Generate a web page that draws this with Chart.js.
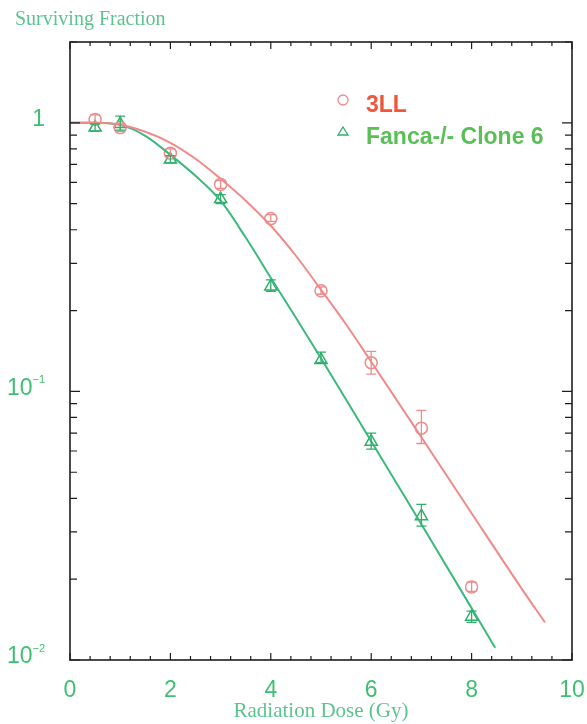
<!DOCTYPE html>
<html lang="en">
<head>
  <meta charset="UTF-8" />
  <title>Surviving Fraction</title>
  <style>
    html, body { margin: 0; padding: 0; background: #fff; }
    #wrap { width: 587px; height: 724px; position: relative; }
  </style>
</head>
<body>
  <div id="wrap"><canvas id="chart"></canvas></div>
  <script src="https://cdn.jsdelivr.net/npm/chart.js@4/dist/chart.umd.min.js"></script>
  <script>
// measured points (dose in Gy, surviving fraction)
const doses = [0.5, 1, 2, 3, 4, 5, 6, 7, 8]
const sf3LL = [1.03, 0.96, 0.77, 0.59, 0.44, 0.237, 0.128, 0.073, 0.0187]
const sfFanca = [0.96, 0.99, 0.73, 0.52, 0.246, 0.131, 0.065, 0.0343, 0.0145]

// error bar ends
const lo3LL = [1.0, 0.93, 0.75, 0.57, 0.43, 0.23, 0.116, 0.064, 0.0180]
const hi3LL = [1.07, 0.99, 0.80, 0.61, 0.455, 0.245, 0.141, 0.085, 0.0195]
const loFanca = [0.93, 0.94, 0.71, 0.50, 0.236, 0.128, 0.061, 0.0315, 0.0138]
const hiFanca = [0.99, 1.06, 0.755, 0.54, 0.26, 0.140, 0.070, 0.038, 0.0152]

// fitted curves
const fitDose3LL = [0, 0.5, 1, 1.5, 2, 2.5, 3, 3.5, 4, 4.5, 5, 5.5, 6, 7, 8, 9, 9.46]
const fit3LL = [1.0, 1.0, 0.983, 0.926, 0.843, 0.735, 0.619, 0.513, 0.414, 0.320, 0.239, 0.1775, 0.129, 0.0675, 0.0352, 0.0184, 0.0138]
const fitDoseFanca = [0, 0.5, 1, 1.5, 2, 2.5, 3, 3.5, 4, 4.5, 5, 6, 7, 8, 8.47]
const fitFanca = [1.0, 1.0, 0.983, 0.895, 0.760, 0.635, 0.513, 0.374, 0.265, 0.188, 0.133, 0.0652, 0.032, 0.0156, 0.0111]

// axes
const xTickLabels = [0, 2, 4, 6, 8, 10]
const yMajor = [1, 0.1, 0.01]
const yBase = ['1', '10', '10']
const yExp = ['', '\u22121', '\u22122']
const legendNames = ['3LL', 'Fanca-/- Clone 6']

const RED_LINE = '#f08a8a'
const RED_PT = '#ec8c8c'
const GREEN_LINE = '#3cb97c'
const GREEN_PT = '#2fae6c'
const LABEL_GREEN = '#3fbf72'
const TITLE_GREEN = '#5cc48f'

const toXY = (xs, ys) => xs.map((x, i) => ({ x, y: ys[i] }))

// minor ticks on the log axis
const yMarks = []
for (const d of [0.01, 0.1, 1]) for (let k = 1; k <= 9; k++) if (d * k <= 2.0001) yMarks.push(d * k)
const xMarks = []
for (let i = 0; i <= 25; i++) xMarks.push(+(i * 0.4).toFixed(2))

const framePlugin = {
  id: 'frame',
  afterDatasetsDraw(chart) {
    const { ctx, chartArea: { left, right, top, bottom }, scales: { x, y } } = chart
    ctx.save()

    // error bars
    chart.data.datasets.forEach(ds => {
      if (!ds.errLo) return
      ctx.strokeStyle = ds.borderColor
      ctx.lineWidth = 1.3
      ds.data.forEach((p, i) => {
        const px = x.getPixelForValue(p.x)
        const y1 = y.getPixelForValue(ds.errLo[i])
        const y2 = y.getPixelForValue(ds.errHi[i])
        ctx.beginPath()
        ctx.moveTo(px, y1); ctx.lineTo(px, y2)
        ctx.moveTo(px - 5, y1); ctx.lineTo(px + 5, y1)
        ctx.moveTo(px - 5, y2); ctx.lineTo(px + 5, y2)
        ctx.stroke()
      })
    })

    // box and inward ticks
    ctx.strokeStyle = '#1e1e1e'
    ctx.lineWidth = 1.6
    ctx.strokeRect(left, top, right - left, bottom - top)
    ctx.lineWidth = 1.2
    ctx.beginPath()
    xMarks.forEach(v => {
      const px = x.getPixelForValue(v)
      const len = Math.abs(v / 2 - Math.round(v / 2)) < 1e-6 ? 7 : 4
      ctx.moveTo(px, bottom); ctx.lineTo(px, bottom - len)
      ctx.moveTo(px, top); ctx.lineTo(px, top + len)
    })
    yMarks.forEach(v => {
      const py = y.getPixelForValue(v)
      const major = yMajor.some(m => Math.abs(m - v) < 1e-9)
      const len = major ? 10 : 7
      ctx.moveTo(left, py); ctx.lineTo(left + len, py)
      ctx.moveTo(right, py); ctx.lineTo(right - len, py)
    })
    ctx.stroke()

    // y labels with superscript exponent
    ctx.fillStyle = LABEL_GREEN
    ctx.textBaseline = 'middle'
    yMajor.forEach((v, i) => {
      const py = y.getPixelForValue(v) - 3
      ctx.font = '11px "Liberation Sans", Arial, sans-serif'
      const ew = ctx.measureText(yExp[i]).width
      ctx.font = '23px "Liberation Sans", Arial, sans-serif'
      const bw = ctx.measureText(yBase[i]).width
      const xr = 45
      ctx.textAlign = 'left'
      ctx.fillText(yBase[i], xr - ew - bw, py)
      if (yExp[i]) {
        ctx.font = '11px "Liberation Sans", Arial, sans-serif'
        ctx.fillText(yExp[i], xr - ew, py - 8)
      }
    })

    // title at top left
    ctx.fillStyle = TITLE_GREEN
    ctx.font = '20px "Liberation Serif", "Times New Roman", serif'
    ctx.textAlign = 'left'
    ctx.textBaseline = 'alphabetic'
    ctx.fillText('Surviving Fraction', 15, 25)

    // legend
    ctx.lineWidth = 1.3
    ctx.strokeStyle = RED_PT
    ctx.beginPath(); ctx.arc(343, 100, 5, 0, Math.PI * 2); ctx.stroke()
    ctx.strokeStyle = GREEN_PT
    ctx.beginPath()
    ctx.moveTo(343, 127); ctx.lineTo(348, 135); ctx.lineTo(338, 135); ctx.closePath()
    ctx.stroke()
    ctx.font = 'bold 23px "Liberation Sans", Arial, sans-serif'
    ctx.fillStyle = '#f0573a'
    ctx.fillText(legendNames[0], 366, 112)
    ctx.fillStyle = '#5bbf58'
    ctx.fillText(legendNames[1], 366, 144)

    ctx.restore()
  }
}

new Chart(document.getElementById('chart'), {
  type: 'line',
  data: {
    datasets: [
      {
        label: '3LL fit', data: toXY(fitDose3LL, fit3LL),
        borderColor: RED_LINE, borderWidth: 2, pointRadius: 0,
        cubicInterpolationMode: 'monotone'
      },
      {
        label: 'Fanca fit', data: toXY(fitDoseFanca, fitFanca),
        borderColor: GREEN_LINE, borderWidth: 2, pointRadius: 0,
        cubicInterpolationMode: 'monotone'
      },
      {
        label: legendNames[0], data: toXY(doses, sf3LL), showLine: false,
        borderColor: RED_PT, backgroundColor: 'rgba(255,255,255,0)',
        pointStyle: 'circle', pointRadius: 6, pointBorderWidth: 1.5,
        errLo: lo3LL, errHi: hi3LL
      },
      {
        label: legendNames[1], data: toXY(doses, sfFanca), showLine: false,
        borderColor: GREEN_PT, backgroundColor: 'rgba(255,255,255,0)',
        pointStyle: 'triangle', pointRadius: 7, pointBorderWidth: 1.5,
        errLo: loFanca, errHi: hiFanca
      }
    ]
  },
  options: {
    responsive: true,
    maintainAspectRatio: false,
    animation: false,
    layout: { padding: { top: 42, right: 15, left: 0, bottom: 0 } },
    plugins: { legend: { display: false }, tooltip: { enabled: false } },
    scales: {
      x: {
        type: 'linear', min: 0, max: 10,
        afterBuildTicks: s => { s.ticks = xTickLabels.map(v => ({ value: v })) },
        afterFit: s => { s.height = 64; s.paddingRight = 0; s.paddingLeft = 0 },
        grid: { display: false }, border: { display: false },
        ticks: {
          color: LABEL_GREEN, padding: 9, maxRotation: 0,
          font: { family: '"Liberation Sans", Arial, sans-serif', size: 23 }
        },
        title: {
          display: true, text: 'Radiation Dose (Gy)', color: TITLE_GREEN,
          padding: { top: 0, bottom: 0 },
          font: { family: '"Liberation Serif", "Times New Roman", serif', size: 21 }
        }
      },
      y: {
        type: 'logarithmic', min: 0.01, max: 2,
        afterFit: s => { s.width = 70 },
        grid: { display: false }, border: { display: false },
        ticks: { display: false }
      }
    }
  },
  plugins: [framePlugin]
})
  </script>
</body>
</html>
